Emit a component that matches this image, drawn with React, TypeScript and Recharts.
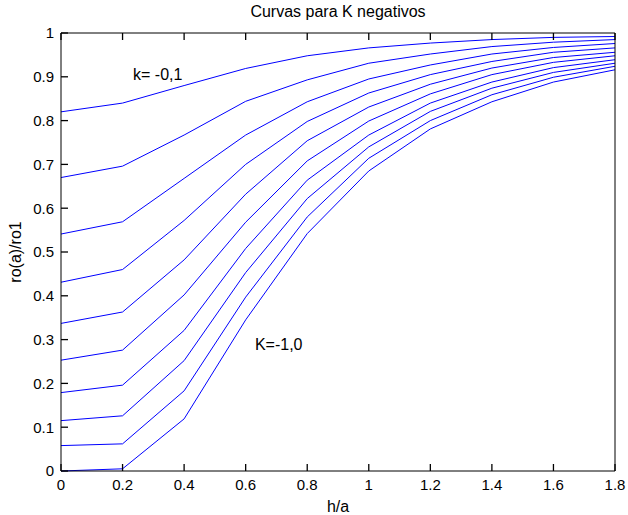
import { LineChart, Line, XAxis, YAxis, Label, ReferenceDot } from "recharts";

// h/a sample points
const hA = [0, 0.2, 0.4, 0.6, 0.8, 1.0, 1.2, 1.4, 1.6, 1.8];

// ro(a)/ro1 for k = -0.1 ... -1.0
const k01 = [0.82, 0.84, 0.88, 0.919, 0.948, 0.966, 0.977, 0.985, 0.99, 0.992];
const k02 = [0.67, 0.696, 0.767, 0.844, 0.893, 0.931, 0.952, 0.969, 0.979, 0.985];
const k03 = [0.541, 0.569, 0.668, 0.767, 0.843, 0.895, 0.927, 0.952, 0.967, 0.976];
const k04 = [0.431, 0.46, 0.572, 0.7, 0.798, 0.863, 0.905, 0.935, 0.956, 0.966];
const k05 = [0.337, 0.363, 0.482, 0.632, 0.754, 0.831, 0.883, 0.92, 0.944, 0.956];
const k06 = [0.253, 0.276, 0.402, 0.568, 0.708, 0.799, 0.861, 0.905, 0.933, 0.948];
const k07 = [0.179, 0.196, 0.321, 0.508, 0.664, 0.767, 0.84, 0.888, 0.921, 0.939];
const k08 = [0.115, 0.126, 0.252, 0.453, 0.622, 0.74, 0.821, 0.874, 0.91, 0.931];
const k09 = [0.058, 0.062, 0.183, 0.397, 0.58, 0.714, 0.8, 0.859, 0.899, 0.924];
const k10 = [0, 0.005, 0.119, 0.345, 0.542, 0.685, 0.781, 0.843, 0.888, 0.916];

const series = [k01, k02, k03, k04, k05, k06, k07, k08, k09, k10];

const xTicks = [0, 0.2, 0.4, 0.6, 0.8, 1, 1.2, 1.4, 1.6, 1.8];
const yTicks = [0, 0.1, 0.2, 0.3, 0.4, 0.5, 0.6, 0.7, 0.8, 0.9, 1];

const data = hA.map((h, i) => {
  const row: any = { h };
  series.forEach((s, j) => {
    row["k" + j] = s[i];
  });
  return row;
});

const font = "'Liberation Sans', Arial, sans-serif";
const tickStyle = { fill: "#000", fontSize: 15, fontFamily: font };
const tickLine = { stroke: "#000", strokeWidth: 1.3 };
const noLabel = () => "";

export default function App() {
  return (
    <div style={{ position: "absolute", left: 0, top: 0, background: "#fff" }}>
      <LineChart
        width={628}
        height={515}
        data={data}
        margin={{ top: 32, right: 12, bottom: 0, left: 0 }}
      >
        {/* negative tickSize = ticks pointing into the box, like MATLAB */}
        <XAxis
          xAxisId="b"
          dataKey="h"
          type="number"
          domain={[0, 1.8]}
          ticks={xTicks}
          interval={0}
          height={44}
          tickSize={-7}
          tickMargin={15}
          tickLine={tickLine}
          stroke="#000"
          tick={tickStyle}
        >
          <Label
            content={(p: any) => (
              <text
                x={p.viewBox.x + p.viewBox.width / 2}
                y={p.viewBox.y + 41}
                textAnchor="middle"
                fontSize={16}
                fontFamily={font}
                fill="#000"
              >
                h/a
              </text>
            )}
          />
        </XAxis>
        <XAxis
          xAxisId="t"
          orientation="top"
          dataKey="h"
          type="number"
          domain={[0, 1.8]}
          ticks={xTicks}
          interval={0}
          height={1}
          tickSize={-7}
          tickLine={tickLine}
          tickFormatter={noLabel}
          stroke="#000"
        >
          <Label
            content={(p: any) => (
              <text
                x={p.viewBox.x + p.viewBox.width / 2}
                y={p.viewBox.y - 15}
                textAnchor="middle"
                fontSize={16}
                fontFamily={font}
                fill="#000"
              >
                Curvas para K negativos
              </text>
            )}
          />
        </XAxis>
        <YAxis
          yAxisId="l"
          type="number"
          domain={[0, 1]}
          ticks={yTicks}
          interval={0}
          width={61}
          tickSize={-7}
          tickMargin={14}
          tickLine={tickLine}
          stroke="#000"
          tick={tickStyle}
        >
          <Label
            content={(p: any) => {
              const cx = p.viewBox.x + 21;
              const cy = p.viewBox.y + p.viewBox.height / 2;
              return (
                <text
                  x={cx}
                  y={cy}
                  transform={`rotate(-90 ${cx} ${cy})`}
                  textAnchor="middle"
                  fontSize={16}
                  fontFamily={font}
                  fill="#000"
                >
                  ro(a)/ro1
                </text>
              );
            }}
          />
        </YAxis>
        <YAxis
          yAxisId="r"
          orientation="right"
          type="number"
          domain={[0, 1]}
          ticks={yTicks}
          interval={0}
          width={1}
          tickSize={-7}
          tickLine={tickLine}
          tickFormatter={noLabel}
          stroke="#000"
        />
        {series.map((_, j) => (
          <Line
            key={j}
            xAxisId="b"
            yAxisId="l"
            type="linear"
            dataKey={"k" + j}
            stroke="#0000ff"
            strokeWidth={1}
            dot={false}
            isAnimationActive={false}
          />
        ))}
        <ReferenceDot
          xAxisId="b"
          yAxisId="l"
          x={0.234}
          y={0.905}
          r={0}
          stroke="none"
          label={{ value: "k= -0,1", position: "right", offset: 0, fill: "#000", fontSize: 16, fontFamily: font }}
        />
        <ReferenceDot
          xAxisId="b"
          yAxisId="l"
          x={0.63}
          y={0.29}
          r={0}
          stroke="none"
          label={{ value: "K=-1,0", position: "right", offset: 0, fill: "#000", fontSize: 16, fontFamily: font }}
        />
      </LineChart>
    </div>
  );
}
